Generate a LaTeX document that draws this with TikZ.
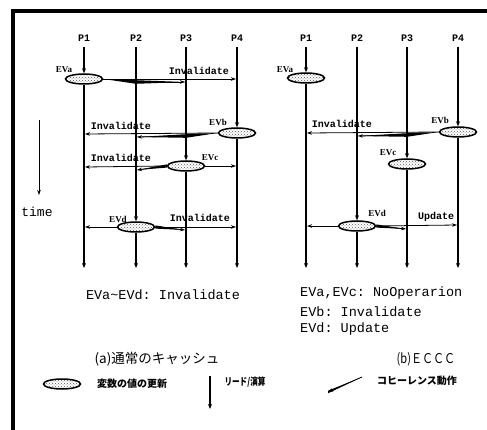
\documentclass[tikz,border=0pt]{standalone}
\usepackage{fontspec}
\setmonofont{Liberation Mono}
\newfontfamily\jpfont{Noto Sans CJK JP}
\newfontfamily\evfont{Liberation Serif}
\usetikzlibrary{shapes.geometric,arrows.meta,patterns,calc}
\newcommand\dwedge[3]{\fill (#1) -- ($(#2)+(0,-1.8)$) -- (#3) -- ($(#2)+(0,1.8)$) -- cycle; \draw[msg] (#2) -- (#3);}
\newcommand\swedge[2]{\fill ($(#1)+(0,-1.6)$) -- (#2) -- ($(#1)+(0,1.6)$) -- cycle; \draw[msg] (#1) -- (#2);}
\begin{document}
\begin{tikzpicture}[x=1pt,y=-1pt,
  proc/.style={line width=1.2pt,-{Stealth[length=5pt,width=4pt]}},
  msg/.style={line width=0.8pt,-{Stealth[length=5pt,width=3.5pt]}},
  ev/.style={ellipse,draw,line width=1.5pt,minimum width=37pt,minimum height=10pt,inner sep=0pt,preaction={fill=white},pattern=crosshatch dots,pattern color=black!65},
  lbl/.style={font=\ttfamily\bfseries\fontsize{10}{12}\selectfont,inner sep=0pt},
  evl/.style={font=\evfont\bfseries\fontsize{9}{10}\selectfont,inner sep=0pt},
  txt/.style={font=\ttfamily\fontsize{13.5}{16}\selectfont,inner sep=0pt,anchor=west},
  jp/.style={font=\jpfont\bfseries\fontsize{10}{12}\selectfont,inner sep=0pt},
]
\useasboundingbox (0,0) rectangle (487,430);
\fill[white] (0,0) rectangle (487,430);
\draw[line width=4pt] (12.5,430) -- (12.5,11) -- (487,11);

% ---------- left panel (a)
\foreach \n/\x in {1/84,2/136,3/186,4/237}{
  \node[lbl] (aP\n) at (\x,38) {P\n};
  \coordinate (aT\n) at (\x,47);
  \coordinate (aB\n) at (\x,268);
}
\node[ev] (aEa) at (84,79) {};
\node[ev] (aEb) at (237,133) {};
\node[ev] (aEc) at (186,166) {};
\node[ev] (aEd) at (136,227) {};
\draw[proc] (aT1) -- (aEa.north); \draw[proc] (aEa.south) -- (aB1);
\draw[proc] (aT2) -- (aEd.north); \draw[proc] (aEd.south) -- (aB2);
\draw[proc] (aT3) -- (aEc.north); \draw[proc] (aEc.south) -- (aB3);
\draw[proc] (aT4) -- (aEb.north); \draw[proc] (aEb.south) -- (aB4);

% EVa
\coordinate (aA4) at (236,79);
\coordinate (aAw) at (136,82);
\coordinate (aA3) at (185,82);
\draw[msg] (aEa.east) -- (aA4);
\dwedge{aEa.east}{aAw}{aA3}
% EVb
\coordinate (aB1m) at (85,134);
\coordinate (aBw) at (186,136);
\coordinate (aB2m) at (137,137);
\draw[msg] (aEb.west) -- (aB1m);
\dwedge{aEb.west}{aBw}{aB2m}
% EVc
\coordinate (aC1) at (85,167);
\coordinate (aC4) at (236,166);
\coordinate (aC2) at (137,170);
\draw[msg] (aEc.west) -- (aC1);
\draw[msg] (aEc.east) -- (aC4);
\swedge{aEc.west}{aC2}
% EVd
\coordinate (aD1) at (85,227);
\coordinate (aD4) at (236,227);
\coordinate (aD3) at (185,230);
\draw[msg] (aEd.west) -- (aD1);
\draw[msg] (aEd.east) -- (aD4);
\swedge{aEd.east}{aD3}

\node[evl] (aLa) at (64,70) {EVa};
\node[evl] (aLb) at (218,122) {EVb};
\node[evl] (aLc) at (210,158) {EVc};
\node[evl] (aLd) at (118,219) {EVd};
\node[lbl] (aI1) at (199,71) {Invalidate};
\node[lbl] (aI2) at (121,126) {Invalidate};
\node[lbl] (aI3) at (121,158) {Invalidate};
\node[lbl] (aI4) at (200,218) {Invalidate};

% ---------- right panel (b)
\foreach \n/\x in {1/306,2/357,3/407,4/458}{
  \node[lbl] (bP\n) at (\x,38) {P\n};
  \coordinate (bT\n) at (\x,47);
  \coordinate (bB\n) at (\x,268);
}
\node[ev] (bEa) at (306,78) {};
\node[ev] (bEb) at (458,132) {};
\node[ev] (bEc) at (407,164) {};
\node[ev] (bEd) at (357,226) {};
\draw[proc] (bT1) -- (bEa.north); \draw[proc] (bEa.south) -- (bB1);
\draw[proc] (bT2) -- (bEd.north); \draw[proc] (bEd.south) -- (bB2);
\draw[proc] (bT3) -- (bEc.north); \draw[proc] (bEc.south) -- (bB3);
\draw[proc] (bT4) -- (bEb.north); \draw[proc] (bEb.south) -- (bB4);

% EVb
\coordinate (bB1m) at (307,133);
\coordinate (bBw) at (407,135);
\coordinate (bB2m) at (358,136);
\draw[msg] (bEb.west) -- (bB1m);
\dwedge{bEb.west}{bBw}{bB2m}
% EVd
\coordinate (bD1) at (307,226);
\coordinate (bD4) at (457,225);
\coordinate (bD3) at (406,229);
\draw[msg] (bEd.west) -- (bD1);
\draw[msg] (bEd.east) -- (bD4);
\swedge{bEd.east}{bD3}

\node[evl] (bLa) at (285,70) {EVa};
\node[evl] (bLb) at (440,120) {EVb};
\node[evl] (bLc) at (388,153) {EVc};
\node[evl] (bLd) at (377,213) {EVd};
\node[lbl] (bI1) at (342,124) {Invalidate};
\node[lbl] (bU1) at (436,217) {Update};

% ---------- time
\node[font=\ttfamily\fontsize{13}{15}\selectfont,inner sep=0pt] (time) at (37,212) {time};
\coordinate (tA) at (39,120);
\coordinate (tB) at (39,195);
\draw[line width=0.8pt,-{Stealth[length=5pt,width=3.5pt]}] (tA) -- (tB);

% ---------- summaries
\node[txt,anchor=center] (aSum) at (163,295) {EVa\textasciitilde EVd: Invalidate};
\node[txt] (bS1) at (300,293) {EVa,EVc: NoOperarion};
\node[txt] (bS2) at (300,312) {EVb: Invalidate};
\node[txt] (bS3) at (300,329) {EVd: Update};

% ---------- captions
\node[font=\jpfont\fontsize{13.5}{15}\selectfont,inner sep=0pt] (capA) at (157,359) {(a)通常のキャッシュ};
\node[font=\jpfont\fontsize{13.5}{15}\selectfont,inner sep=0pt] (capB) at (426,359) {\scalebox{0.82}[1]{(b)ＥＣＣＣ}};

% ---------- legend
\node[ev] (legE) at (62,384) {};
\node[jp] (legEt) at (132,384) {変数の値の更新};
\coordinate (legRa) at (210,376);
\coordinate (legRb) at (210,409);
\draw[proc] (legRa) -- (legRb);
\node[jp] (legRt) at (245,382) {\scalebox{0.76}[1]{リード/演算}};
\coordinate (legCa) at (362,377);
\coordinate (legCb) at (328,392);
\fill (legCa) -- ($(legCb)+(0,-1.3)$) -- ($(legCb)+(0,1.3)$) -- cycle;
\draw[msg] (legCa) -- (legCb);
\node[jp] (legCt) at (417,381) {コヒーレンス動作};
\end{tikzpicture}
\end{document}
